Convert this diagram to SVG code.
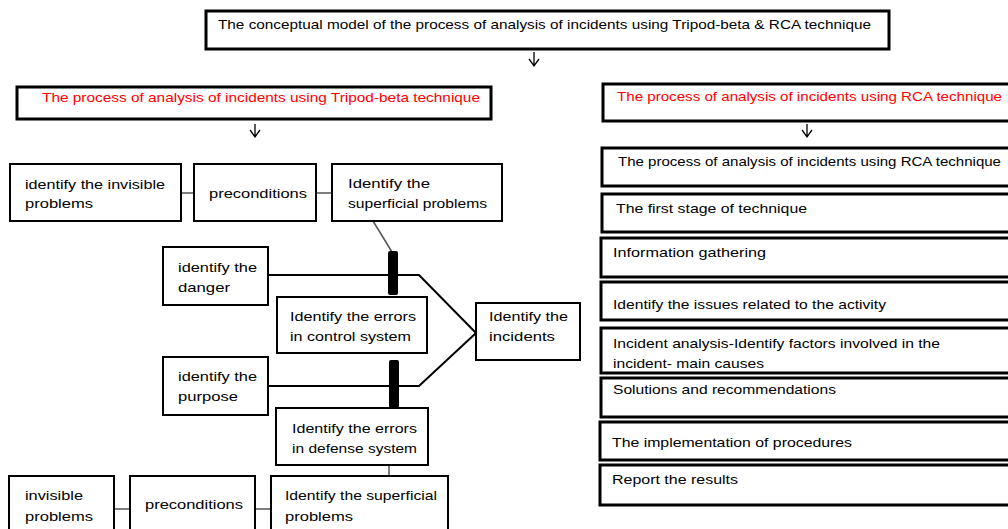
<svg xmlns="http://www.w3.org/2000/svg" width="1008" height="529" viewBox="0 0 1008 529">
<defs>
<style>
text{font-family:"Liberation Sans",Arial,sans-serif;font-size:13.5px;fill:#000}
.red{fill:#ff0000}
.bx{fill:#fff;stroke:#000;stroke-width:2}
.bx3{fill:#fff;stroke:#000;stroke-width:3}
.gl{stroke:#555;stroke-width:1.5;fill:none}
.bl{stroke:#000;stroke-width:2;fill:none}
.ar{stroke:#000;stroke-width:1.3;fill:none}
.bar{fill:#000}
</style>
</defs>
<rect width="1008" height="529" fill="#fff"/>
<g id="connectors">
<path class="ar" d="M534 52V66M529 59L534 66L539 59"/>
<path class="ar" d="M255 124V137M250 130L255 137L260 130"/>
<path class="ar" d="M807 124V137M802 130L807 137L812 130"/>
<path class="gl" d="M181 193H194M316 193H332"/>
<path class="gl" d="M114 509H130M255 509H271"/>
<path class="gl" d="M373 221L392 252"/>
<path class="gl" d="M389 465V476"/>
<path class="bl" d="M268 275H419L476 333"/>
<path class="bl" d="M268 386H419L476 333"/>
<rect class="bar" x="388" y="251" width="10" height="44" rx="2"/>
<rect class="bar" x="389" y="360" width="10" height="48" rx="2"/>
</g>
<g id="top"><rect class="bx3" x="206" y="11" width="683" height="38"/>
<text x="218" y="29" textLength="653" lengthAdjust="spacingAndGlyphs">The conceptual model of the process of analysis of incidents using Tripod-beta &amp; RCA technique</text></g>
<g id="tripod"><rect class="bx3" x="17" y="87" width="474" height="32"/>
<text class="red" x="42" y="102" textLength="438" lengthAdjust="spacingAndGlyphs">The process of analysis of incidents using Tripod-beta technique</text></g>
<g id="rca"><rect class="bx3" x="603" y="84" width="410" height="37"/>
<text class="red" x="617" y="101" textLength="385" lengthAdjust="spacingAndGlyphs">The process of analysis of incidents using RCA technique</text></g>
<g id="n-invisible"><rect class="bx" x="10" y="164" width="171" height="57"/>
<text x="25" y="189" textLength="140" lengthAdjust="spacingAndGlyphs">identify the invisible</text>
<text x="25" y="208" textLength="68" lengthAdjust="spacingAndGlyphs">problems</text></g>
<g id="n-precond"><rect class="bx" x="194" y="164" width="122" height="57"/>
<text x="209" y="198" textLength="98" lengthAdjust="spacingAndGlyphs">preconditions</text></g>
<g id="n-superficial"><rect class="bx" x="332" y="164" width="170" height="57"/>
<text x="348" y="188" textLength="82" lengthAdjust="spacingAndGlyphs">Identify the</text>
<text x="348" y="208" textLength="139" lengthAdjust="spacingAndGlyphs">superficial problems</text></g>
<g id="n-danger"><rect class="bx" x="163" y="247" width="105" height="58"/>
<text x="178" y="272" textLength="79" lengthAdjust="spacingAndGlyphs">identify the</text>
<text x="178" y="292" textLength="52" lengthAdjust="spacingAndGlyphs">danger</text></g>
<g id="n-control"><rect class="bx" x="277" y="297" width="150" height="56"/>
<text x="290" y="321" textLength="126" lengthAdjust="spacingAndGlyphs">Identify the errors</text>
<text x="290" y="341" textLength="121" lengthAdjust="spacingAndGlyphs">in control system</text></g>
<g id="n-incidents"><rect class="bx" x="476" y="303" width="104" height="57"/>
<text x="489" y="321" textLength="79" lengthAdjust="spacingAndGlyphs">Identify the</text>
<text x="489" y="341" textLength="66" lengthAdjust="spacingAndGlyphs">incidents</text></g>
<g id="n-purpose"><rect class="bx" x="163" y="357" width="105" height="58"/>
<text x="178" y="381" textLength="79" lengthAdjust="spacingAndGlyphs">identify the</text>
<text x="178" y="401" textLength="60" lengthAdjust="spacingAndGlyphs">purpose</text></g>
<g id="n-defense"><rect class="bx" x="276" y="408" width="152" height="57"/>
<text x="292" y="433" textLength="125" lengthAdjust="spacingAndGlyphs">Identify the errors</text>
<text x="292" y="453" textLength="125" lengthAdjust="spacingAndGlyphs">in defense system</text></g>
<g id="n-invisible2"><rect class="bx" x="9" y="476" width="105" height="60"/>
<text x="25" y="500" textLength="58" lengthAdjust="spacingAndGlyphs">invisible</text>
<text x="25" y="521" textLength="68" lengthAdjust="spacingAndGlyphs">problems</text></g>
<g id="n-precond2"><rect class="bx" x="130" y="476" width="125" height="60"/>
<text x="145" y="509" textLength="98" lengthAdjust="spacingAndGlyphs">preconditions</text></g>
<g id="n-superficial2"><rect class="bx" x="271" y="476" width="177" height="60"/>
<text x="285" y="500" textLength="152" lengthAdjust="spacingAndGlyphs">Identify the superficial</text>
<text x="285" y="521" textLength="68" lengthAdjust="spacingAndGlyphs">problems</text></g>
<g id="r1"><rect class="bx3" x="602" y="148" width="411" height="38"/>
<text x="618" y="166" textLength="383" lengthAdjust="spacingAndGlyphs">The process of analysis of incidents using RCA technique</text></g>
<g id="r2"><rect class="bx3" x="602" y="194" width="411" height="38"/>
<text x="616" y="213" textLength="191" lengthAdjust="spacingAndGlyphs">The first stage of technique</text></g>
<g id="r3"><rect class="bx3" x="601" y="238" width="412" height="39"/>
<text x="613" y="257" textLength="153" lengthAdjust="spacingAndGlyphs">Information gathering</text></g>
<g id="r4"><rect class="bx3" x="601" y="282" width="412" height="38"/>
<text x="613" y="309" textLength="273" lengthAdjust="spacingAndGlyphs">Identify the issues related to the activity</text></g>
<g id="r5"><rect class="bx3" x="601" y="328" width="412" height="45"/>
<text x="613" y="348" textLength="327" lengthAdjust="spacingAndGlyphs">Incident analysis-Identify factors involved in the</text>
<text x="613" y="368" textLength="151" lengthAdjust="spacingAndGlyphs">incident- main causes</text></g>
<g id="r6"><rect class="bx3" x="601" y="378" width="412" height="39"/>
<text x="613" y="394" textLength="223" lengthAdjust="spacingAndGlyphs">Solutions and recommendations</text></g>
<g id="r7"><rect class="bx3" x="600" y="422" width="413" height="38"/>
<text x="612" y="447" textLength="240" lengthAdjust="spacingAndGlyphs">The implementation of procedures</text></g>
<g id="r8"><rect class="bx3" x="600" y="465" width="413" height="40"/>
<text x="612" y="484" textLength="126" lengthAdjust="spacingAndGlyphs">Report the results</text></g>
</svg>
